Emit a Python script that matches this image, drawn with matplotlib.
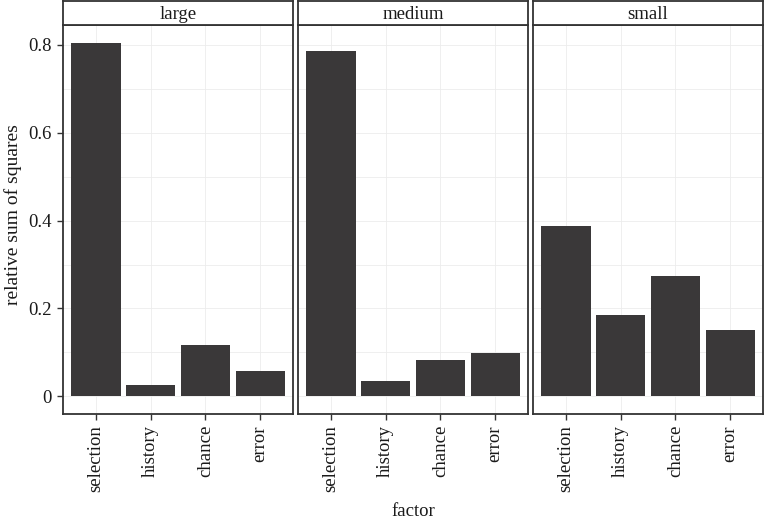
import numpy as np
import matplotlib
matplotlib.use('Agg')
import matplotlib.pyplot as plt
from matplotlib.ticker import MultipleLocator

plt.rcParams['font.family'] = ['Liberation Serif', 'DejaVu Serif']

panels = ['large', 'medium', 'small']
factors = ['selection', 'history', 'chance', 'error']
large = [0.805, 0.026, 0.116, 0.057]
medium = [0.786, 0.036, 0.082, 0.098]
small = [0.387, 0.186, 0.275, 0.152]
values = [large, medium, small]
yticks = [0, 0.2, 0.4, 0.6, 0.8]
ylabels = ['0', '0.2', '0.4', '0.6', '0.8']

bar_color = '#3a3839'
frame_color = '#333333'
grid_color = '#ececec'
text_color = '#1a1a1a'
fs = 13.5

fig = plt.figure(figsize=(7.64, 5.22), dpi=100)
W, H = 764.0, 522.0
left0, pw, gap = 63, 230, 5
top, bottom = 25, 414
strip_h = 24

x = np.arange(1, len(factors) + 1)
ymax = max(max(v) for v in values)
ylo, yhi = -0.05 * ymax, ymax * 1.05

for i, (name, vals) in enumerate(zip(panels, values)):
    l = left0 + i * (pw + gap)
    ax = fig.add_axes([l / W, (H - bottom) / H, pw / W, (bottom - top) / H])
    ax.bar(x, vals, width=0.9, color=bar_color, zorder=3)
    ax.set_xlim(0.4, 4.6)
    ax.set_ylim(ylo, yhi)
    ax.yaxis.set_minor_locator(MultipleLocator(0.1))
    ax.set_yticks(yticks)
    ax.set_xticks(x)
    ax.set_xticklabels(factors, rotation=90, fontsize=fs, color=text_color)
    ax.grid(True, which='both', axis='y', color=grid_color, lw=0.6, zorder=0)
    ax.grid(True, which='major', axis='x', color=grid_color, lw=0.6, zorder=0)
    ax.tick_params(axis='y', which='minor', length=0)
    ax.tick_params(axis='both', which='major', length=4.5, width=1.0,
                   color=frame_color, labelsize=fs, pad=3.5)
    if i == 0:
        ax.set_yticklabels(ylabels, color=text_color)
    else:
        ax.tick_params(axis='y', which='major', length=0, labelleft=False)
    for s in ax.spines.values():
        s.set_color(frame_color)
        s.set_linewidth(1.3)

    # strip
    sax = fig.add_axes([l / W, (H - top) / H, pw / W, strip_h / H])
    sax.set_xticks([])
    sax.set_yticks([])
    sax.set_facecolor('white')
    for s in sax.spines.values():
        s.set_color(frame_color)
        s.set_linewidth(1.3)
    sax.text(0.5, 0.42, name, ha='center', va='center', fontsize=fs,
             color=text_color, transform=sax.transAxes)

fig.text(13 / W, 1 - 215 / H, 'relative sum of squares', rotation=90,
         ha='center', va='center', fontsize=14, color=text_color)
fig.text((left0 + (3 * pw + 2 * gap) / 2) / W, 1 - 512 / H, 'factor',
         ha='center', va='center', fontsize=fs, color=text_color)

fig.savefig('out.png', dpi=100)
